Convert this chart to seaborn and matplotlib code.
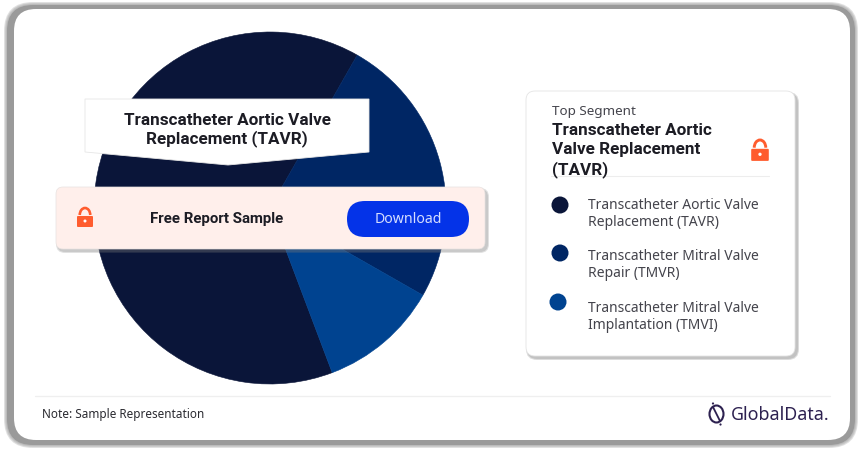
import matplotlib
matplotlib.use("Agg")
import matplotlib.pyplot as plt
from matplotlib.patches import FancyBboxPatch, Polygon, Circle, Arc, Ellipse
import seaborn as sns

segments = ["Transcatheter Aortic Valve\nReplacement (TAVR)",
            "Transcatheter Mitral Valve\nRepair (TMVR)",
            "Transcatheter Mitral Valve\nImplantation (TMVI)"]
shares = [64, 25, 11]
colors = ["#0A1539", "#002664", "#004390"]
top_title = "Transcatheter Aortic Valve\nReplacement (TAVR)"
top_name = ["Transcatheter Aortic", "Valve Replacement", "(TAVR)"]

sns.set_theme(style="white")
plt.rcParams["font.family"] = ["Noto Sans", "DejaVu Sans"]
palette = sns.color_palette(colors)
bold = ["Roboto", "DejaVu Sans"]

W, H = 863, 452
fig = plt.figure(figsize=(W / 100, H / 100), dpi=100, facecolor="white")

# page layer in pixel coordinates
bg = fig.add_axes([0, 0, 1, 1], zorder=0)
bg.set_xlim(0, W)
bg.set_ylim(H, 0)
bg.axis("off")


def rbox(ax, x0, y0, x1, y1, r, **kw):
    p = FancyBboxPatch((x0 + r, y0 + r), x1 - x0 - 2 * r, y1 - y0 - 2 * r,
                       boxstyle=f"round,pad={r},rounding_size={r}", **kw)
    ax.add_patch(p)
    return p


def soft_shadow(ax, x0, y0, x1, y1, r, spread, color, alpha):
    for i in range(spread, 0, -1):
        rbox(ax, x0 - i, y0 - i, x1 + i, y1 + i, r + i, fc=color, ec="none", alpha=alpha)


def lock(ax, cx, cy, s=1.0, color="#FF5C2E"):
    ax.add_patch(Arc((cx, cy - 3 * s), 10.5 * s, 14 * s, theta1=180, theta2=360,
                     ec=color, lw=1.9 * s))
    rbox(ax, cx - 8 * s, cy - 2 * s, cx + 8 * s, cy + 9 * s, 1, fc=color, ec="none")
    ax.add_patch(Circle((cx, cy + 3 * s), 1.5 * s, fc="white", ec="none"))


# outer frame
soft_shadow(bg, 7, 6, 855, 446, 26, 3, "#9A9A9A", 0.3)
rbox(bg, 7, 6, 855, 446, 26, fc="#9A9A9A", ec="none")
rbox(bg, 14, 10, 850, 441, 22, fc="white", ec="none")

# pie
ax = fig.add_axes([94 / W, (H - 385) / H, 352 / W, 352 / H], zorder=1)
wedges, _ = ax.pie(shares, colors=palette, startangle=-69.3, counterclock=False, radius=1,
                   wedgeprops={"linewidth": 0.4})
for w in wedges:
    w.set_edgecolor(w.get_facecolor())
ax.set_xlim(-1, 1)
ax.set_ylim(-1, 1)

# everything on top of the pie
top = fig.add_axes([0, 0, 1, 1], zorder=2)
top.set_xlim(0, W)
top.set_ylim(H - 1, -1)
top.axis("off")
top.patch.set_alpha(0)

# title banner
top.add_patch(Polygon([(85, 99), (369, 99), (369, 152), (228, 165), (85, 152)],
                      closed=True, fc="white", ec="#E6E6E6", lw=0.6))
top.text(227, 129, top_title, ha="center", va="center", fontsize=12.3, fontweight="bold",
         family=bold, color="#1C1C24", linespacing=1.15)

# sample strip
soft_shadow(top, 58, 190, 487, 251, 7, 2, "#777777", 0.22)
rbox(top, 56, 187, 485, 249, 7, fc="#FFEFEB", ec="#E8E2E0", lw=0.5)
lock(top, 85, 218)
top.text(217, 218, "Free Report Sample", ha="center", va="center", fontsize=10.8,
         fontweight="bold", family=bold, color="#1C1C24")
rbox(top, 347, 201, 469, 237, 18, fc="#0433E8", ec="none")
top.text(408, 219, "Download", ha="center", va="center", fontsize=10.2, color="#D5DEFF")

# right card
soft_shadow(top, 528, 94, 797, 358, 9, 2, "#777777", 0.25)
rbox(top, 526, 91, 795, 356, 9, fc="white", ec="#E4E4E4", lw=0.6)
top.text(552, 111, "Top Segment", ha="left", va="center", fontsize=9.7, color="#44444C")
for y, line in zip([130, 149, 169], top_name):
    top.text(552, y, line, ha="left", va="center", fontsize=12.3, fontweight="bold",
             family=bold, color="#1C1C24")
lock(top, 760, 151, 1.1)
top.plot([551, 769], [176, 176], color="#EDEDED", lw=0.8)

# legend
dot_x = [560, 560, 558]
dot_y = [205, 253, 302]
sns.scatterplot(x=dot_x, y=dot_y, hue=segments, palette=palette, s=150, linewidth=0,
                legend=False, ax=top, zorder=5)
for y, name in zip([213, 264, 316], segments):
    top.text(588, y, name, ha="left", va="center", fontsize=10, color="#44444C", linespacing=1.22)
top.set_xlim(0, W)
top.set_ylim(H - 1, -1)
top.set_xlabel("")
top.set_ylabel("")

# footer
top.plot([35, 830], [395.5, 395.5], color="#EFEFEF", lw=0.9)
top.text(42, 413.5, "Note: Sample Representation", ha="left", va="center", fontsize=8.45, color="#2A2A30")
logo = "#2D2150"
top.add_patch(Ellipse((716.5, 414), 14, 17, fc="none", ec=logo, lw=1.5))
top.plot([713, 720], [407, 421], color=logo, lw=1.3)
top.add_patch(Circle((713, 403.5), 1.1, fc=logo, ec="none"))
top.add_patch(Circle((720.5, 424.5), 1.1, fc=logo, ec="none"))
top.text(731, 414.5, "GlobalData.", ha="left", va="center", fontsize=12.8, color=logo)

fig.savefig("out.png", dpi=100)
